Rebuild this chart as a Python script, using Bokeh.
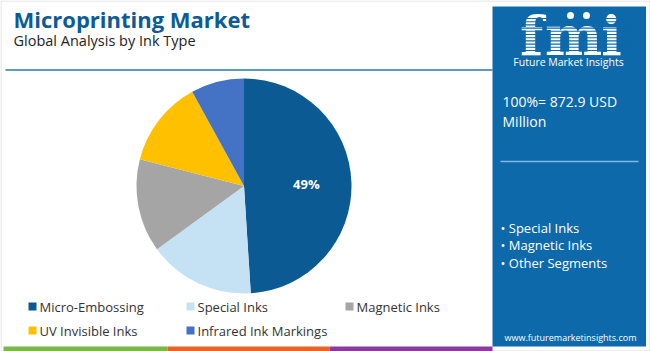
import math
from bokeh.plotting import figure
from bokeh.models import Range1d, ColumnDataSource
from bokeh.core.properties import value
from bokeh.embed import file_html
from bokeh.resources import INLINE

# ---- data ----
categories = ["Micro-Embossing", "Special Inks", "Magnetic Inks", "UV Invisible Inks", "Infrared Ink Markings"]
shares = [49, 16, 14, 13, 8]
slice_colors = ["#0b5a94", "#c5e1f4", "#a5a5a5", "#ffc000", "#4472c4"]
title = "Microprinting Market"
subtitle = "Global Analysis by Ink Type"
total_lines = ["100%= 872.9 USD", "Million"]
panel_bullets = ["Special Inks", "Magnetic Inks", "Other Segments"]
website = "www.futuremarketinsights.com"
brand = "Future Market Insights"
logo_letters = ["f", "m", "i"]

W, H = 650, 351
FONT = value("Open Sans")
PANEL = "#0e69ab"


def Y(y):
    return H - y


p = figure(width=W, height=H, x_range=Range1d(0, W), y_range=Range1d(0, H),
           output_backend="svg", toolbar_location=None, min_border=0,
           x_axis_location=None, y_axis_location=None)
p.grid.visible = False
p.outline_line_color = None
p.background_fill_color = "white"
p.border_fill_color = "white"

# outer faint border
p.quad(left=0.5, right=W - 0.5, top=Y(0.5), bottom=Y(H - 0.5), fill_color=None,
       line_color="#dddddd", line_width=1)

# title / subtitle
p.text(x=[13], y=[Y(18)], text=[title], text_font=FONT, text_font_size="22px",
       text_font_style="bold", text_color="#0d5b96", text_baseline="middle", text_align="left")
p.text(x=[13], y=[Y(40)], text=[subtitle], text_font=FONT, text_font_size="14.5px",
       text_color="#222222", text_baseline="middle", text_align="left")
p.segment(x0=[5], y0=[Y(69.5)], x1=[492], y1=[Y(69.5)], line_color="#2a77b5", line_width=1.5)

# pie
cx, cy, R = 243.5, 185.5, 107.5
total = sum(shares)
starts, ends, mids = [], [], []
cum = 0.0
for s in shares:
    a0 = math.pi / 2 - 2 * math.pi * cum / total
    cum += s
    a1 = math.pi / 2 - 2 * math.pi * cum / total
    starts.append(a0)
    ends.append(a1)
    mids.append((a0 + a1) / 2)
src = ColumnDataSource(dict(start=starts, end=ends, color=slice_colors))
p.wedge(x=cx, y=Y(cy), radius=R, start_angle="start", end_angle="end", direction="clock",
        fill_color="color", line_color=None, source=src)
lx = cx + 0.58 * R * math.cos(mids[0])
ly = Y(cy) + 0.58 * R * math.sin(mids[0])
p.text(x=[lx], y=[ly], text=[f"{shares[0]}%"], text_font=FONT, text_font_size="13px",
       text_font_style="bold", text_color="white", text_baseline="middle", text_align="center")

# legend
col_x = [28, 186, 345]
row_y = [306, 330]
mx, my, tx, ty = [], [], [], []
for i, c in enumerate(categories):
    r, k = divmod(i, 3)
    mx.append(col_x[k] + 4)
    my.append(Y(row_y[r]))
    tx.append(col_x[k] + 11)
    ty.append(Y(row_y[r]))
p.scatter(x=mx, y=my, marker="square", size=8, fill_color=slice_colors, line_color=None)
p.text(x=tx, y=ty, text=categories, text_font=FONT, text_font_size="13px",
       text_color="#333333", text_baseline="middle", text_align="left")

# bottom colour bands
p.quad(left=[3, 167, 329], right=[167, 329, 492], top=[Y(346)] * 3, bottom=[Y(351)] * 3,
       fill_color=["#7ab648", "#e8622c", "#8e3a9d"], line_color=None)

# right panel
p.quad(left=492, right=645.5, top=Y(6), bottom=Y(346), fill_color=PANEL, line_color=None)

# logo
p.text(x=[531, 573, 611], y=[Y(35)] * 3, text=logo_letters, text_font=value("DejaVu Serif"),
       text_font_size="54px", text_font_style="bold", text_color="white",
       text_baseline="middle", text_align="center")
stripe_y = [Y(18 + 3.2 * i) for i in range(11)]
p.segment(x0=[508] * len(stripe_y), y0=stripe_y, x1=[630] * len(stripe_y), y1=stripe_y,
          line_color=PANEL, line_width=1.1)
p.scatter(x=[570, 586], y=[Y(15)] * 2, marker="circle", size=7, fill_color="white", line_color=None)
p.text(x=[568], y=[Y(61)], text=[brand], text_font=FONT, text_font_size="10.5px",
       text_color="white", text_baseline="middle", text_align="center")

# total
p.text(x=[502, 502], y=[Y(101), Y(121)], text=total_lines, text_font=FONT, text_font_size="14px",
       text_color="white", text_baseline="middle", text_align="left")
p.segment(x0=[500], y0=[Y(161)], x1=[638], y1=[Y(161)], line_color="#7fb6e2", line_width=1.5)

# bullets
p.text(x=[500] * 3, y=[Y(227 + 17.5 * i) for i in range(3)], text=["\u2022 " + b for b in panel_bullets],
       text_font=FONT, text_font_size="13px", text_color="white", text_baseline="middle", text_align="left")

p.text(x=[570], y=[Y(337)], text=[website], text_font=FONT, text_font_size="9px",
       text_color="white", text_baseline="middle", text_align="center")

open("out.html", "w").write(file_html(p, INLINE))
